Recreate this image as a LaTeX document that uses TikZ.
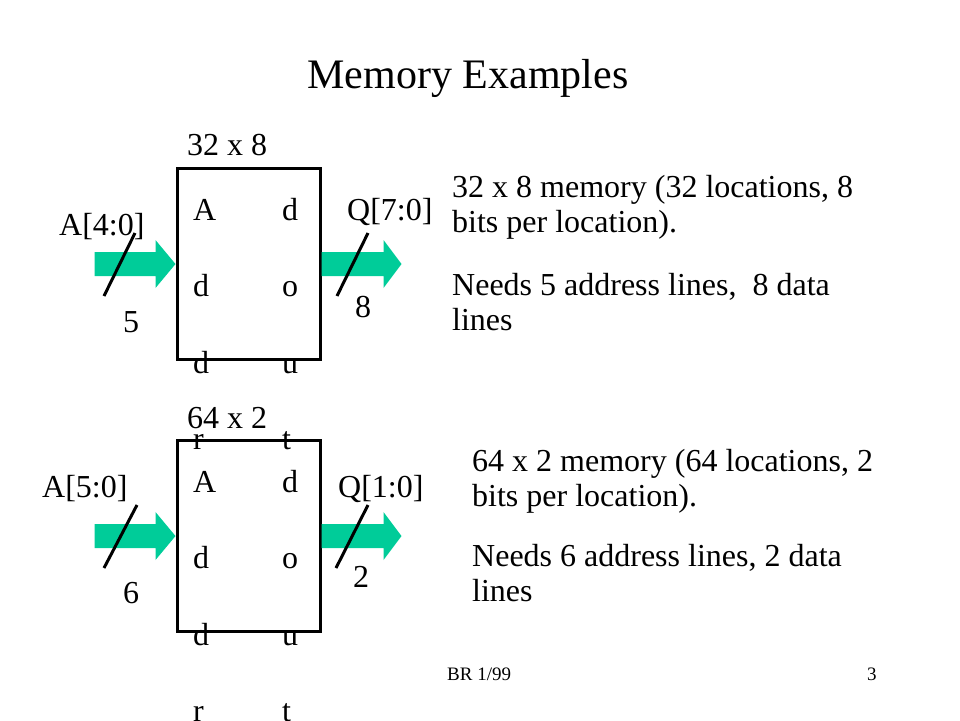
\documentclass[tikz,border=0pt]{standalone}
\usepackage{fontspec}
\setmainfont{Liberation Serif}
\usetikzlibrary{positioning}
\definecolor{busgreen}{RGB}{0,204,153}

\begin{document}
\begin{tikzpicture}[x=1pt,y=-1pt,
    every node/.style={inner sep=0pt, font=\fontsize{32}{35}\selectfont},
    txt/.style={anchor=base west, align=left},
    pins/.style={anchor=base west, align=left, font=\fontsize{32}{76.5}\selectfont},
    memblock/.style={draw, line width=3pt, minimum width=143pt, minimum height=191pt},
    bus/.style={fill=busgreen},
    slash/.style={line width=3pt}]
    \useasboundingbox (0,0) rectangle (960,720);

    \node[anchor=base, font=\fontsize{42}{46}\selectfont] (title) at (468,88) {Memory Examples};

    % 32 x 8 (multi-line nodes sit on the baseline of their last line)
    \node[pins] (addr1) at (193,449.5) {A\\d\\d\\r};
    \node[pins] (dout1) at (282,449.5) {d\\o\\u\\t};
    \node[memblock]     (mem1)  at (248.5,264) {};
    \node[txt]          (size1) at (187,155) {32 x 8};
    \node[txt]          (ain1)  at (59,235)  {A[4:0]};
    \node[txt]          (win1)  at (123,332) {5};
    \node[txt]          (qout1) at (347,220) {Q[7:0]};
    \node[txt]          (wout1) at (355,317) {8};
    \fill[bus] (mem1.west) -- ++(-20,-24) -- ++(0,12) -- ++(-61,0) -- ++(0,24)
               -- ++(61,0) -- ++(0,12) -- cycle;
    \fill[bus] (mem1.east) ++(0,-12) -- ++(62,0) -- ++(0,-12) -- ++(18,24)
               -- ++(-18,24) -- ++(0,-12) -- ++(-62,0) -- cycle;
    \draw[slash] (135,233) -- (104,296);
    \draw[slash] (368,233) -- (337,296);
    \node[txt] (desc1) at (452,232) {32 x 8 memory\ (32 locations, 8\\bits per location).};
    \node[txt] (need1) at (452,330) {Needs 5 address lines,\ \ 8 data\\lines};

    % 64 x 2
    \node[pins] (addr2) at (193,721.5) {A\\d\\d\\r};
    \node[pins] (dout2) at (282,721.5) {d\\o\\u\\t};
    \node[memblock]     (mem2)  at (248.5,536) {};
    \node[txt]          (size2) at (187,428) {64 x 2};
    \node[txt]          (ain2)  at (42,497)  {A[5:0]};
    \node[txt]          (win2)  at (123,603) {6};
    \node[txt]          (qout2) at (338,497) {Q[1:0]};
    \node[txt]          (wout2) at (353,587) {2};
    \fill[bus] (mem2.west) -- ++(-20,-24) -- ++(0,12) -- ++(-61,0) -- ++(0,24)
               -- ++(61,0) -- ++(0,12) -- cycle;
    \fill[bus] (mem2.east) ++(0,-12) -- ++(62,0) -- ++(0,-12) -- ++(18,24)
               -- ++(-18,24) -- ++(0,-12) -- ++(-62,0) -- cycle;
    \draw[slash] (137,505) -- (104,568);
    \draw[slash] (368,505) -- (336,568);
    \node[txt] (desc2) at (472,506) {64 x 2 memory (64 locations, 2\\bits per location).};
    \node[txt] (need2) at (472,601) {Needs 6 address lines, 2 data\\lines};

    \node[txt, font=\fontsize{19}{21}\selectfont] (footer) at (447,680) {BR 1/99};
    \node[txt, font=\fontsize{19}{21}\selectfont] (page)   at (867,680) {3};
\end{tikzpicture}
\end{document}
